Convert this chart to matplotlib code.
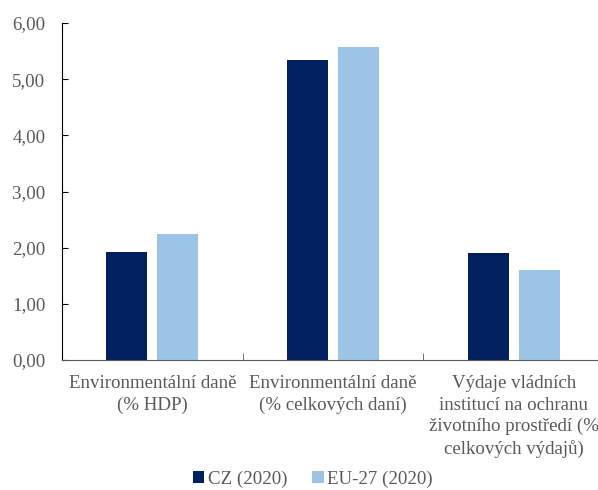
import matplotlib
matplotlib.use("Agg")
import matplotlib.pyplot as plt
import numpy as np

categories = ["Environmentální daně\n(% HDP)",
              "Environmentální daně\n(% celkových daní)",
              "Výdaje vládních\ninstitucí na ochranu\nživotního prostředí (%\ncelkových výdajů)"]
series_names = ["CZ (2020)", "EU-27 (2020)"]
cz_values = [1.93, 5.35, 1.91]
eu_values = [2.24, 5.57, 1.61]
yticks = [0, 1, 2, 3, 4, 5, 6]

plt.rcParams['font.family'] = ['Liberation Serif', 'DejaVu Serif']
TXT = '#595959'
FS = 13.6

fig = plt.figure(figsize=(5.98, 4.90), dpi=100)
W, H = 598, 490
left, right, top, bottom = 62, 604, 23, 360
ax = fig.add_axes([left / W, 1 - bottom / H, (right - left) / W, (bottom - top) / H])

x = np.arange(len(categories))
bw = 0.227
off = 0.141
b1 = ax.bar(x - off, cz_values, bw, color='#002060', label=series_names[0])
b2 = ax.bar(x + off, eu_values, bw, color='#9DC3E6', label=series_names[1])

ax.set_xlim(-0.5, 2.5)
ax.set_ylim(0, 6)
ax.set_yticks(yticks)
ax.set_yticklabels([f"{v:.2f}".replace('.', ',') for v in yticks], fontsize=FS, color=TXT)
ax.set_xticks(x)
ax.set_xticklabels(categories, fontsize=FS, color=TXT, linespacing=1.33, va='top')
ax.set_xticks([0.5, 1.5], minor=True)
ax.tick_params(axis='x', which='major', length=0, pad=11)
ax.tick_params(axis='x', which='minor', length=5, direction='in', color='#595959')
ax.tick_params(axis='y', length=4, direction='in', color='black', pad=12)

for s in ['top', 'right']:
    ax.spines[s].set_visible(False)
ax.spines['left'].set_color('black')
ax.spines['bottom'].set_color('#595959')

leg = fig.legend(handles=[b1, b2], loc='center', bbox_to_anchor=(313 / W, 1 - 479 / H),
                 ncol=2, frameon=False, fontsize=FS, handlelength=0.6, handleheight=0.6,
                 handletextpad=0.2, columnspacing=1.3)
for t in leg.get_texts():
    t.set_color(TXT)

fig.savefig('out.png', dpi=100)
